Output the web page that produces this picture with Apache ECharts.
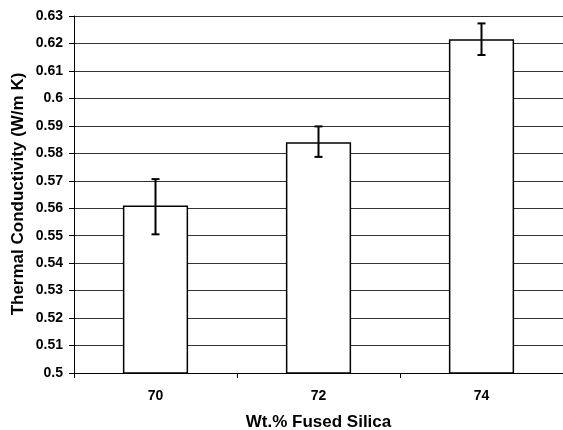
<!DOCTYPE html>
<html><head><meta charset="utf-8">
<script src="https://cdn.jsdelivr.net/npm/echarts@6/dist/echarts.min.js"></script>
<style>html,body{margin:0;padding:0;background:#fff}#c{width:563px;height:430px}</style>
</head><body><div id="c"></div>
<script>
const categories = ['70', '72', '74'];
const values = [0.561, 0.584, 0.6215];
const errLow = [0.5505, 0.5787, 0.6158];
const errHigh = [0.5706, 0.5898, 0.6273];

const chart = echarts.init(document.getElementById('c'));
const font = 'Liberation Sans, Arial, sans-serif';
chart.setOption({
  animation: false,
  grid: {left: 74, right: 0, top: 16, bottom: 57, outerBoundsMode: 'none', containLabel: false},
  graphic: [{
    type: 'text', x: 18, y: 194, rotation: Math.PI / 2,
    style: {text: 'Thermal Conductivity (W/m K)', fontFamily: font, fontWeight: 'bold', fontSize: 17,
      fill: '#000', align: 'center', verticalAlign: 'middle'}
  }],
  xAxis: {
    type: 'category', data: categories,
    name: 'Wt.% Fused Silica', nameLocation: 'middle', nameGap: 41,
    nameTextStyle: {fontFamily: font, fontWeight: 'bold', fontSize: 17, color: '#000'},
    axisLine: {lineStyle: {color: '#000', width: 1}},
    axisTick: {show: true, length: 5, lineStyle: {color: '#000'}},
    axisLabel: {fontFamily: font, fontWeight: 'bold', fontSize: 14, color: '#000', margin: 16}
  },
  yAxis: {
    type: 'value', min: 0.5, max: 0.63, interval: 0.01,
    axisLine: {show: true, lineStyle: {color: '#000', width: 1}},
    axisTick: {show: true, length: 5, lineStyle: {color: '#000'}},
    axisLabel: {fontFamily: font, fontWeight: 'bold', fontSize: 14, color: '#000', margin: 11,
      formatter: v => String(parseFloat(v.toFixed(2)))},
    splitLine: {lineStyle: {color: '#333', width: 1}}
  },
  series: [{
    type: 'bar', data: values, barWidth: '40%',
    itemStyle: {color: '#fff', borderColor: '#000', borderWidth: 1.5}
  }, {
    type: 'custom',
    data: categories.map((c, i) => [i, errLow[i], errHigh[i]]),
    renderItem: (params, api) => {
      const x = api.value(0);
      const lo = api.coord([x, api.value(1)]);
      const hi = api.coord([x, api.value(2)]);
      const hw = 4;
      const st = {stroke: '#000', lineWidth: 2};
      return {type: 'group', children: [
        {type: 'line', shape: {x1: lo[0], y1: lo[1], x2: hi[0], y2: hi[1]}, style: st},
        {type: 'line', shape: {x1: lo[0]-hw, y1: lo[1], x2: lo[0]+hw, y2: lo[1]}, style: st},
        {type: 'line', shape: {x1: hi[0]-hw, y1: hi[1], x2: hi[0]+hw, y2: hi[1]}, style: st}
      ]};
    },
    z: 10
  }]
});
</script></body></html>
